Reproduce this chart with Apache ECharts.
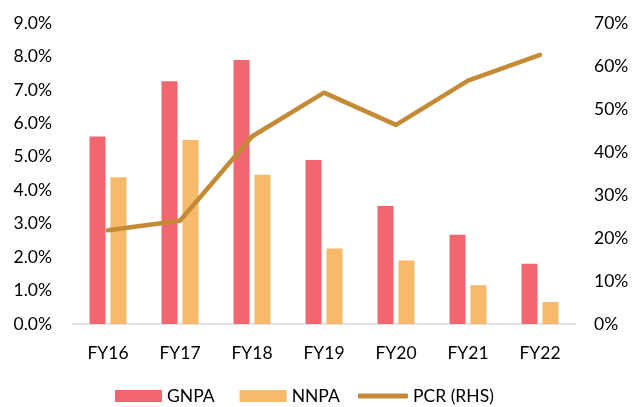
<!DOCTYPE html>
<html>
<head>
<meta charset="utf-8">
<script src="https://cdn.jsdelivr.net/npm/echarts@6/dist/echarts.min.js"></script>
<style>
  html, body { margin: 0; padding: 0; background: #fff; }
  #chart { width: 633px; height: 407px; }
</style>
</head>
<body>
<div id="chart"></div>
<script>
// Asset quality trend: gross / net NPA ratios (left axis) and provision coverage (right axis)
const years = ['FY16', 'FY17', 'FY18', 'FY19', 'FY20', 'FY21', 'FY22'];
const gnpa = [5.61, 7.26, 7.89, 4.90, 3.53, 2.67, 1.80];
const nnpa = [4.39, 5.50, 4.46, 2.26, 1.90, 1.16, 0.66];
const pcr = [21.8, 24.0, 43.6, 53.8, 46.3, 56.6, 62.6];

const FONT = 'Lato, "Open Sans", "Liberation Sans", sans-serif';
const FS = 17.5;
const chart = echarts.init(document.getElementById('chart'));

const legendText = { fontSize: FS, color: '#000', fontFamily: FONT };

chart.setOption({
  animation: false,
  textStyle: { fontFamily: FONT },
  grid: { left: 72, right: 57, top: 23, bottom: 83, containLabel: false },
  legend: [
    {
      left: 110,
      top: 382,
      itemWidth: 47,
      itemHeight: 12,
      itemGap: 25,
      textStyle: legendText,
      data: [
        { name: 'GNPA', icon: 'rect' },
        { name: 'NNPA', icon: 'rect' }
      ]
    },
    {
      left: 353,
      top: 382,
      itemWidth: 50,
      itemHeight: 5,
      textStyle: legendText,
      data: [{ name: 'PCR (RHS)', icon: 'roundRect' }]
    }
  ],
  xAxis: {
    type: 'category',
    data: years,
    axisLine: { lineStyle: { color: '#d9d9d9', width: 1.5 } },
    axisTick: { show: false },
    axisLabel: { color: '#000', fontSize: FS, margin: 20, fontFamily: FONT }
  },
  yAxis: [
    {
      type: 'value',
      min: 0, max: 9, interval: 1,
      splitLine: { show: false },
      axisLine: { show: false },
      axisTick: { show: false },
      axisLabel: {
        color: '#000', fontSize: FS, margin: 20, fontFamily: FONT,
        formatter: v => v.toFixed(1) + '%'
      }
    },
    {
      type: 'value',
      min: 0, max: 70, interval: 10,
      splitLine: { show: false },
      axisLine: { show: false },
      axisTick: { show: false },
      axisLabel: {
        color: '#000', fontSize: FS, margin: 18, fontFamily: FONT,
        formatter: v => v + '%'
      }
    }
  ],
  series: [
    {
      name: 'GNPA',
      type: 'bar',
      data: gnpa,
      barWidth: 16,
      barGap: '31%',
      itemStyle: { color: '#F2676F' }
    },
    {
      name: 'NNPA',
      type: 'bar',
      data: nnpa,
      barWidth: 16,
      itemStyle: { color: '#F7B96A' }
    },
    {
      name: 'PCR (RHS)',
      type: 'line',
      yAxisIndex: 1,
      data: pcr,
      symbol: 'none',
      lineStyle: { color: '#C48A35', width: 4.5, cap: 'round', join: 'round' },
      itemStyle: { color: '#C48A35' },
      z: 5
    }
  ]
});
</script>
</body>
</html>
